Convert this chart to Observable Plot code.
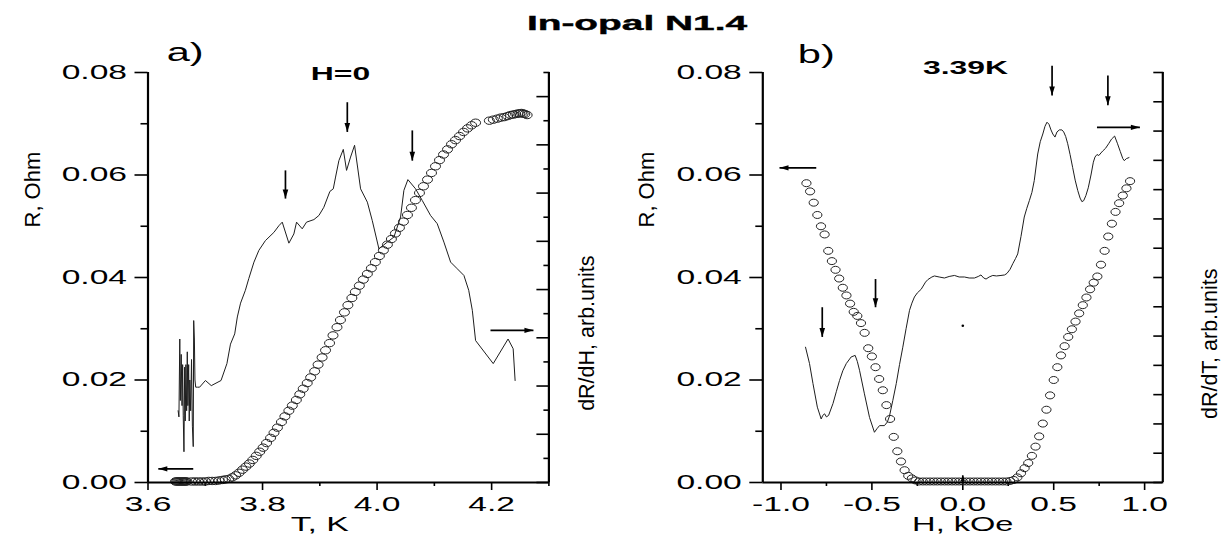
<!DOCTYPE html>
<html><head><meta charset="utf-8">
<script src="https://cdn.jsdelivr.net/npm/d3@7"></script>
<script src="https://cdn.jsdelivr.net/npm/@observablehq/plot@0.6"></script>
<style>
body{margin:0;background:#fff;}
#wrap{position:relative;width:1224px;height:540px;overflow:hidden;background:#fff;font-family:"Liberation Sans",Arial,sans-serif;}
#wrap svg{position:absolute;top:0;}
#title{position:absolute;left:437px;top:12px;width:400px;text-align:center;font-weight:bold;font-size:21px;line-height:21px;transform:scaleX(1.85);color:#000;-webkit-text-stroke:0.4px #000;}
</style></head><body>
<div id="wrap"><div id="title">In-opal N1.4</div></div>
<script>
// ---------- Panel a: R(T) at H=0 (open circles, left axis) ----------
const rA_T = [3.648,3.650,3.652,3.654,3.656,3.658,3.660,3.662,3.664,3.666,3.668,
  3.676,3.682,3.688,3.694,3.700,3.706,3.712,3.718,3.724,3.730,3.735,
  3.741,3.747,3.753,3.759,3.765,3.771,3.777,3.783,3.789,3.795,3.801,3.807,3.814,3.820,3.826,3.833,3.839,3.846,
  3.852,3.859,3.865,3.871,3.878,3.884,3.891,3.897,3.904,3.910,3.917,3.923,3.930,3.936,3.943,3.949,3.956,3.962,
  3.969,3.976,3.983,3.990,3.997,4.004,4.011,4.018,4.025,4.032,4.039,4.046,4.053,4.060,4.067,4.074,4.081,4.088,
  4.095,4.102,4.109,4.116,4.123,4.130,4.137,4.144,4.151,4.158,4.165,4.172,
  4.196,4.203,4.210,4.216,4.222,4.228,4.233,4.238,4.242,4.246,4.249,4.252,4.255,4.258,4.262];
const rA_R = [0.0002,0.0002,0.0002,0.0002,0.0002,0.0002,0.0002,0.0002,0.0002,0.0002,0.0002,
  0.0002,0.0002,0.0002,0.0002,0.0002,0.0003,0.0003,0.0003,0.0004,0.0005,0.0006,
  0.0007,0.0010,0.0014,0.0019,0.0025,0.0031,0.0037,0.0044,0.0052,0.0060,0.0068,0.0077,0.0087,0.0097,0.0107,0.0118,0.0129,0.0140,
  0.0150,0.0161,0.0172,0.0183,0.0194,0.0205,0.0217,0.0230,0.0244,0.0258,0.0272,0.0287,0.0303,0.0317,0.0332,0.0346,0.0360,0.0372,
  0.0384,0.0396,0.0407,0.0418,0.0430,0.0442,0.0453,0.0464,0.0475,0.0486,0.0497,0.0509,0.0522,0.0536,0.0551,0.0565,0.0578,0.0591,
  0.0604,0.0617,0.0629,0.0640,0.0650,0.0660,0.0668,0.0676,0.0684,0.0691,0.0697,0.0702,
  0.0706,0.0708,0.0710,0.0712,0.0713,0.0715,0.0717,0.0718,0.0719,0.0720,0.0720,0.0721,0.0720,0.0719,0.0717];

// Panel a: dR/dH curve (arb. units, read against the left-axis scale)
const dA_T = [3.6526,3.6540,3.6555,3.6565,3.6580,3.6594,3.6605,3.6615,3.6628,3.6640,3.6650,3.6662,3.6675,3.6686,
  3.6696,3.6710,3.6720,3.6730,3.6745,3.6760,3.6775,3.6790,3.6798,3.6810,3.6820,3.6833,3.6867,3.6901,3.7003,3.7105,
  3.7275,3.7378,3.7440,3.7514,3.7560,3.7616,3.7700,3.7760,3.7850,3.7936,3.8050,3.8198,3.8285,3.8344,3.8460,3.8547,
  3.8594,3.8693,3.8768,3.8897,3.8984,3.9070,3.9176,3.9235,3.9275,3.9333,3.9410,3.9467,3.9537,3.9607,3.9712,3.9830,
  3.9916,4.0032,4.0178,4.0294,4.0410,4.0468,4.0538,4.0672,4.0790,4.0934,4.1050,4.1167,4.1284,4.1400,4.1516,4.1600,
  4.1663,4.1720,4.2028,4.2287,4.2376,4.2410];
const dA_V = [0.0140,0.0128,0.0280,0.0160,0.0250,0.0150,0.0230,0.0130,0.0060,0.0225,0.0120,0.0230,0.0140,0.0255,
  0.0150,0.0230,0.0120,0.0200,0.0140,0.0240,0.0110,0.0070,0.0316,0.0280,0.0200,0.0186,0.0186,0.0186,0.0199,0.0189,
  0.0199,0.0232,0.0270,0.0290,0.0323,0.0350,0.0375,0.0398,0.0430,0.0453,0.0472,0.0488,0.0501,0.0508,0.0467,0.0485,
  0.0508,0.0495,0.0508,0.0513,0.0521,0.0537,0.0568,0.0573,0.0596,0.0628,0.0650,0.0609,0.0635,0.0658,0.0573,0.0547,
  0.0511,0.0456,0.0469,0.0479,0.0518,0.0570,0.0591,0.0573,0.0550,0.0521,0.0505,0.0469,0.0430,0.0417,0.0404,0.0375,
  0.0336,0.0277,0.0232,0.0280,0.0261,0.0199];

// ---------- Panel b: R(H) at 3.39K ----------
const rB_H = [-0.86,-0.84,-0.82,-0.80,-0.78,-0.76,-0.74,-0.72,-0.70,-0.68,-0.66,-0.64,-0.62,-0.60,-0.58,-0.56,-0.54,-0.52,
  -0.50,-0.48,-0.46,-0.44,-0.42,-0.40,-0.38,-0.36,-0.34,-0.32,-0.30,-0.28,-0.26,-0.24,-0.22,-0.20,-0.18,-0.16,-0.14,
  -0.12,-0.10,-0.08,-0.06,-0.04,-0.02,0.00,0.02,0.04,0.06,0.08,0.10,0.12,0.14,0.16,0.18,0.20,0.22,0.24,0.26,
  0.28,0.30,0.32,0.34,0.36,0.38,0.40,0.42,0.44,0.46,0.48,0.50,0.52,0.54,0.56,0.58,0.60,0.62,0.64,0.66,0.68,0.70,
  0.72,0.74,0.76,0.78,0.80,0.82,0.84,0.86,0.88,0.90,0.92];
const rB_R = [0.0584,0.0568,0.0546,0.0522,0.0500,0.0484,0.0452,0.0432,0.0415,0.0398,0.0380,0.0365,0.0349,0.0333,0.0325,0.0311,0.0292,0.0262,
  0.0246,0.0225,0.0202,0.0180,0.0151,0.0124,0.0089,0.0061,0.0041,0.0024,0.0013,0.0008,0.0004,0.0002,0.0002,0.0002,0.0002,0.0002,0.0002,
  0.0002,0.0002,0.0002,0.0002,0.0002,0.0002,0.0002,0.0002,0.0002,0.0002,0.0002,0.0002,0.0002,0.0002,0.0002,0.0002,0.0002,0.0002,0.0002,0.0003,
  0.0005,0.0010,0.0018,0.0028,0.0038,0.0052,0.0070,0.0090,0.0115,0.0142,0.0170,0.0200,0.0225,0.0248,0.0266,0.0284,0.0299,0.0314,0.0330,0.0346,0.0361,0.0377,
  0.0390,0.0402,0.0425,0.0452,0.0480,0.0505,0.0528,0.0545,0.0560,0.0574,0.0588];

// Panel b: dR/dT curve (arb. units, read against the left-axis scale)
const dB_H = [-0.865,-0.843,-0.824,-0.800,-0.779,-0.770,-0.760,-0.750,-0.738,-0.714,-0.695,-0.678,-0.660,-0.641,-0.614,
  -0.592,-0.580,-0.568,-0.541,-0.513,-0.486,-0.472,-0.458,-0.431,-0.415,-0.403,-0.385,-0.366,-0.348,-0.330,-0.312,
  -0.293,-0.280,-0.266,-0.250,-0.229,-0.205,-0.192,-0.170,-0.156,-0.130,-0.101,-0.075,-0.046,-0.020,0.009,0.035,0.064,
  0.085,0.100,0.115,0.128,0.145,0.165,0.185,0.210,0.230,0.243,0.260,0.275,0.290,0.302,0.320,0.338,0.352,0.366,0.380,
  0.393,0.412,0.426,0.440,0.452,0.463,0.474,0.485,0.495,0.507,0.518,0.531,0.545,0.555,0.566,0.577,0.590,0.604,0.618,
  0.632,0.645,0.655,0.665,0.677,0.690,0.705,0.718,0.727,0.738,0.748,0.760,0.770,0.785,0.802,0.818,0.835,0.850,0.866,
  0.880,0.888,0.900,0.914];
const dB_V = [0.0264,0.0232,0.0193,0.0147,0.0124,0.0131,0.0134,0.0128,0.0131,0.0154,0.0178,0.0199,0.0218,0.0232,0.0245,
  0.0248,0.0236,0.0219,0.0173,0.0127,0.0098,0.0105,0.0111,0.0111,0.0118,0.0130,0.0160,0.0193,0.0230,0.0264,0.0300,
  0.0336,0.0350,0.0362,0.0370,0.0377,0.0391,0.0396,0.0401,0.0403,0.0401,0.0399,0.0402,0.0404,0.0401,0.0401,0.0399,0.0399,
  0.0402,0.0405,0.0399,0.0397,0.0401,0.0404,0.0403,0.0404,0.0405,0.0408,0.0416,0.0427,0.0437,0.0446,0.0480,0.0518,0.0535,0.0550,0.0566,
  0.0589,0.0641,0.0665,0.0680,0.0695,0.0703,0.0699,0.0688,0.0680,0.0674,0.0684,0.0688,0.0688,0.0684,0.0675,0.0661,0.0640,0.0615,0.0590,
  0.0570,0.0555,0.0548,0.0550,0.0560,0.0575,0.0600,0.0625,0.0635,0.0640,0.0638,0.0643,0.0647,0.0652,0.0661,0.0670,0.0676,0.0662,0.0646,
  0.0632,0.0628,0.0632,0.0634];

// ---------- Axes ----------
const yMajor = [0, 0.02, 0.04, 0.06, 0.08];
const yMinor = [0.01, 0.03, 0.05, 0.07];
const xMajorA = [3.6, 3.8, 4.0, 4.2];
const xMinorA = [3.7, 3.9, 4.1, 4.3];
const xMajorB = [-1.0, -0.5, 0.0, 0.5, 1.0];
const xMinorB = [-0.75, -0.25, 0.25, 0.75];
const rightLongA = [0, 2, 4, 6, 8, 10, 12, 14, 16];      // arb. units
const rightShortA = [1, 3, 5, 7, 9, 11, 13, 15, 17];
const rightA_max = 17;
const rightB = [0,1,2,3,4,5,6,7,8,9,10,11,12,13,14];
const rightB_max = 14;

// Arrows (annotation markers)
const arrowsA = [
  {x1: 3.840, y1: 0.0609, x2: 3.840, y2: 0.0554, dir: "down"},
  {x1: 3.948, y1: 0.0742, x2: 3.948, y2: 0.0684, dir: "down"},
  {x1: 4.0615, y1: 0.0687, x2: 4.0615, y2: 0.0628, dir: "down"},
  {x1: 4.198, y1: 0.0297, x2: 4.273, y2: 0.0297, dir: "right"},
  {x1: 3.679, y1: 0.00267, x2: 3.618, y2: 0.00267, dir: "left"}
];
const arrowsB = [
  {x1: -0.806, y1: 0.0614, x2: -1.008, y2: 0.0614, dir: "left"},
  {x1: -0.773, y1: 0.0342, x2: -0.773, y2: 0.0284, dir: "down"},
  {x1: -0.480, y1: 0.0397, x2: -0.480, y2: 0.0342, dir: "down"},
  {x1: 0.491, y1: 0.0813, x2: 0.491, y2: 0.0755, dir: "down"},
  {x1: 0.798, y1: 0.0794, x2: 0.798, y2: 0.0736, dir: "down"},
  {x1: 0.738, y1: 0.0693, x2: 0.974, y2: 0.0693, dir: "right"},
  {x1: 0.0, y1: 0.0000, x2: 0.0, y2: 0.0014, dir: "up"}
];
const stray = [{H: 0.0, v: 0.0306}];

// ---------- helpers ----------
const ellipse = (rx, ry) => ({draw(c) { const k = 0.5523;
  c.moveTo(rx, 0); c.bezierCurveTo(rx, ry*k, rx*k, ry, 0, ry); c.bezierCurveTo(-rx*k, ry, -rx, ry*k, -rx, 0);
  c.bezierCurveTo(-rx, -ry*k, -rx*k, -ry, 0, -ry); c.bezierCurveTo(rx*k, -ry, rx, -ry*k, rx, 0); c.closePath(); }});
const heads = {
  down: {draw(c){ c.moveTo(0,0); c.lineTo(-2.8,-9); c.lineTo(2.8,-9); c.closePath(); }},
  up: {draw(c){ c.moveTo(0,0); c.lineTo(-2.2,6); c.lineTo(2.2,6); c.closePath(); }},
  left: {draw(c){ c.moveTo(0,0); c.lineTo(9,-2.6); c.lineTo(9,2.6); c.closePath(); }},
  right: {draw(c){ c.moveTo(0,0); c.lineTo(-9,-2.6); c.lineTo(-9,2.6); c.closePath(); }}
};
function arrowMarks(arr) {
  const m = [Plot.link(arr, {x1: "x1", y1: "y1", x2: "x2", y2: "y2", stroke: "#000", strokeWidth: 1.7})];
  for (const dir of ["down", "up", "left", "right"]) {
    const sub = arr.filter(d => d.dir === dir);
    if (sub.length) m.push(Plot.dot(sub, {x: "x2", y: "y2", symbol: heads[dir], fill: "#000", stroke: "none"}));
  }
  return m;
}
const FONT = "'Liberation Sans', Arial, sans-serif";
const stretchMap = {"a)": 1.6, "b)": 1.6, "H, kOe": 1.63, "T, K": 1.69};
function stretch(svg) {
  svg.querySelectorAll("text").forEach(t => {
    const tr = t.getAttribute("transform") || "";
    if (/rotate/.test(tr)) return;
    const s = stretchMap[t.textContent] || 1.68;
    t.setAttribute("transform", tr + ` scale(${s},1)`);
  });
}
function axesFor(xMajor, xMinor, fmtX, rightSets, yMaxRight) {
  const k = 0.08 / yMaxRight;
  const m = [
    Plot.axisY(yMajor, {tickSize: 13, tickPadding: 8, tickFormat: d => d.toFixed(2), label: null, strokeWidth: 1.6, fontSize: 20, fill: "#000"}),
    Plot.axisY(yMinor, {tickSize: 7, tickFormat: () => "", label: null, strokeWidth: 1.6}),
    Plot.axisX(xMajor, {tickSize: 8, tickPadding: 6, tickFormat: fmtX, label: null, strokeWidth: 1.6, fontSize: 20, fill: "#000"}),
    Plot.axisX(xMinor, {tickSize: 4, tickFormat: () => "", label: null, strokeWidth: 1.6})
  ];
  for (const [ticks, len] of rightSets)
    m.push(Plot.axisY(ticks.map(v => v * k), {anchor: "right", tickSize: len, dx: -len, tickFormat: () => "", label: null, strokeWidth: 1.6}));
  return m;
}

// ---------- Panel a ----------
const dataRA = rA_T.map((T, i) => ({T, R: rA_R[i]}));
const dataDA = dA_T.map((T, i) => ({T, v: dA_V[i]}));
const plotA = Plot.plot({
  width: 612, height: 540,
  marginLeft: 147.5, marginRight: 63.6, marginTop: 72, marginBottom: 58,
  x: {domain: [3.6, 4.3], label: null},
  y: {domain: [0, 0.08], label: null},
  style: {fontFamily: FONT, fontSize: "20px", color: "#000", background: "transparent", overflow: "visible"},
  marks: [
    ...axesFor(xMajorA, xMinorA, d => d.toFixed(1), [[rightLongA, 13], [rightShortA, 6]], rightA_max),
    Plot.line(dataDA, {x: "T", y: "v", stroke: "#1e1e1e", strokeWidth: 1}),
    Plot.dot(dataRA, {x: "T", y: "R", symbol: ellipse(5, 3.7), fill: "none", stroke: "#222", strokeWidth: 1}),
    ...arrowMarks(arrowsA),
    Plot.ruleX([3.6, 4.3], {stroke: "#000", strokeWidth: 2.2}),
    Plot.ruleY([0], {stroke: "#000", strokeWidth: 2.2}),
    Plot.text(["a)"], {x: 3.665, y: 0.0838, fontSize: 26, fill: "#000"}),
    Plot.text(["H=0"], {x: 3.936, y: 0.0798, fontSize: 19, fontWeight: "bold", fill: "#000"}),
    Plot.text(["T, K"], {x: 3.90, frameAnchor: "bottom", dy: 48, fontSize: 20, fill: "#000"}),
    Plot.text(["R, Ohm"], {frameAnchor: "left", dx: -115, dy: -50, rotate: -90, fontSize: 22, fill: "#000"}),
    Plot.text(["dR/dH, arb.units"], {frameAnchor: "right", dx: 38, dy: -22, rotate: -90, fontSize: 21.5, fill: "#000"})
  ]
});
plotA.style.left = "0px";
stretch(plotA);

// ---------- Panel b ----------
const dataRB = rB_H.map((H, i) => ({H, R: rB_R[i]}));
const dataDB = dB_H.map((H, i) => ({H, v: dB_V[i]}));
const plotB = Plot.plot({
  width: 612, height: 540,
  marginLeft: 150.3, marginRight: 61.7, marginTop: 72, marginBottom: 58,
  x: {domain: [-1.1, 1.1], label: null},
  y: {domain: [0, 0.08], label: null},
  style: {fontFamily: FONT, fontSize: "20px", color: "#000", background: "transparent", overflow: "visible"},
  marks: [
    ...axesFor(xMajorB, xMinorB, d => d.toFixed(1), [[rightB, 10]], rightB_max),
    Plot.line(dataDB, {x: "H", y: "v", stroke: "#1e1e1e", strokeWidth: 1}),
    Plot.dot(dataRB, {x: "H", y: "R", symbol: ellipse(4.6, 3.5), fill: "none", stroke: "#222", strokeWidth: 1}),
    Plot.dot(stray, {x: "H", y: "v", r: 1.3, fill: "#000"}),
    ...arrowMarks(arrowsB),
    Plot.ruleX([-1.1, 1.1], {stroke: "#000", strokeWidth: 2.2}),
    Plot.ruleY([0], {stroke: "#000", strokeWidth: 2.2}),
    Plot.text(["b)"], {x: -0.806, y: 0.0835, fontSize: 26, fill: "#000"}),
    Plot.text(["3.39K"], {x: 0.015, y: 0.0808, fontSize: 19, fontWeight: "bold", fill: "#000"}),
    Plot.text(["H, kOe"], {x: 0.0, frameAnchor: "bottom", dy: 48, fontSize: 20, fill: "#000"}),
    Plot.text(["R, Ohm"], {frameAnchor: "left", dx: -116, dy: -50, rotate: -90, fontSize: 22, fill: "#000"}),
    Plot.text(["dR/dT, arb.units"], {frameAnchor: "right", dx: 47, dy: -9, rotate: -90, fontSize: 21.5, fill: "#000"})
  ]
});
plotB.style.left = "612px";
stretch(plotB);

const wrap = document.getElementById("wrap");
wrap.appendChild(plotA);
wrap.appendChild(plotB);
</script></body></html>
